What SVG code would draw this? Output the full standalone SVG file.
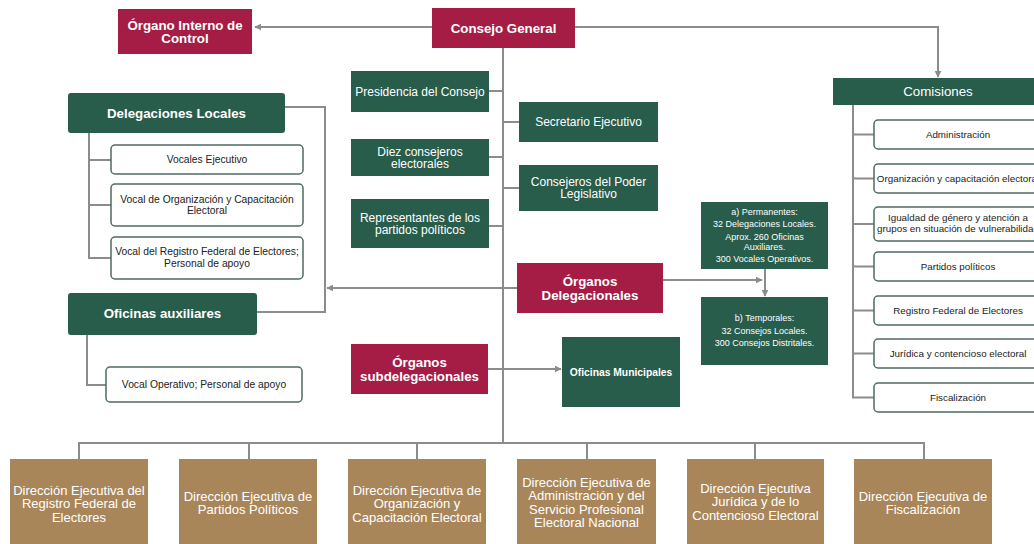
<svg xmlns="http://www.w3.org/2000/svg" width="1034" height="544" viewBox="0 0 1034 544">
<style>
text{font-family:"Liberation Sans",Arial,sans-serif;text-anchor:middle}
.red{fill:#a51d45}
.grn{fill:#285c4b}
.tan{fill:#a9865a}
.wb{fill:#ffffff;stroke:#4d6b60;stroke-width:1.5}
.tb{fill:#ffffff;font-weight:bold;font-size:13.3px}
.tw{fill:#ffffff;font-size:12px}
.tk{fill:#222222;font-size:10.3px}
.tc{fill:#222222;font-size:9.8px}
.ts{fill:#ffffff;font-size:9px}
.td{fill:#ffffff;font-size:13px}
.ln{fill:none;stroke:#8c8c8c;stroke-width:2}
</style>
<defs>
<marker id="ah" viewBox="0 0 10 10" refX="9" refY="5" markerWidth="7" markerHeight="7" markerUnits="userSpaceOnUse" orient="auto">
<path d="M0,0 L10,5 L0,10 z" fill="#8c8c8c"/>
</marker>
</defs>
<rect width="1034" height="544" fill="#ffffff"/>
<g id="connectors">
<path class="ln" d="M432,27 H255" marker-end="url(#ah)"/>
<path class="ln" d="M575,27 H938 V77" marker-end="url(#ah)"/>
<path class="ln" d="M503,48 V443"/>
<path class="ln" d="M489,91 H503 M503,122 H519 M489,157 H503 M503,188 H519 M489,226 H503"/>
<path class="ln" d="M517,288 H327" marker-end="url(#ah)"/>
<path class="ln" d="M285,107 H325 V312 H257"/>
<path class="ln" d="M89,133 V258 H111 M89,160 H111 M89,205 H111"/>
<path class="ln" d="M87,335 V385 H106"/>
<path class="ln" d="M663,280 H762" marker-end="url(#ah)"/>
<path class="ln" d="M765,269 V296" marker-end="url(#ah)"/>
<path class="ln" d="M488,369 H561" marker-end="url(#ah)"/>
<path class="ln" d="M853,105 V397.5 H874 M853,134.5 H874 M853,178.5 H874 M853,224 H874 M853,266.5 H874 M853,310.5 H874 M853,353.5 H874"/>
<path class="ln" d="M79,459 V443 H924 V459 M249,443 V459 M417,443 V459 M587,443 V459 M755,443 V459"/>
</g>
<g id="organo-interno">
<rect class="red" x="118" y="9" width="134" height="45"/>
<text class="tb" x="185" y="29.5">Órgano Interno de</text>
<text class="tb" x="185" y="43">Control</text>
</g>
<g id="consejo-general">
<rect class="red" x="432" y="8" width="143" height="40"/>
<text class="tb" x="503.5" y="32.5">Consejo General</text>
</g>
<g id="comisiones">
<rect class="grn" x="833" y="78" width="210" height="27"/>
<text x="938" y="96" style="fill:#fff;font-size:13.3px">Comisiones</text>
</g>
<g id="com-admin"><rect class="wb" x="874" y="120" width="168" height="29" rx="4"/><text class="tc" x="958" y="138">Administración</text></g>
<g id="com-org"><rect class="wb" x="874" y="164" width="168" height="29" rx="4"/><text class="tc" x="958" y="182">Organización y capacitación electoral</text></g>
<g id="com-igualdad"><rect class="wb" x="874" y="207" width="168" height="34" rx="4"/><text class="tc" x="958" y="221">Igualdad de género y atención a</text><text class="tc" x="958" y="232">grupos en situación de vulnerabilidad</text></g>
<g id="com-partidos"><rect class="wb" x="874" y="252" width="168" height="29" rx="4"/><text class="tc" x="958" y="270">Partidos políticos</text></g>
<g id="com-registro"><rect class="wb" x="874" y="296" width="168" height="29" rx="4"/><text class="tc" x="958" y="314">Registro Federal de Electores</text></g>
<g id="com-juridica"><rect class="wb" x="874" y="339" width="168" height="29" rx="4"/><text class="tc" x="958" y="357">Jurídica y contencioso electoral</text></g>
<g id="com-fisc"><rect class="wb" x="874" y="383" width="168" height="29" rx="4"/><text class="tc" x="958" y="401">Fiscalización</text></g>
<g id="presidencia"><rect class="grn" x="351" y="71" width="138" height="41"/><text class="tw" x="420" y="95.5">Presidencia del Consejo</text></g>
<g id="secretario"><rect class="grn" x="519" y="102" width="139" height="40"/><text class="tw" x="588.5" y="126">Secretario Ejecutivo</text></g>
<g id="diez"><rect class="grn" x="351" y="139" width="138" height="37"/><text class="tw" x="420" y="155.5">Diez consejeros</text><text class="tw" x="420" y="168">electorales</text></g>
<g id="poder-leg"><rect class="grn" x="519" y="165" width="139" height="46"/><text class="tw" x="588.5" y="185.5">Consejeros del Poder</text><text class="tw" x="588.5" y="198">Legislativo</text></g>
<g id="representantes"><rect class="grn" x="351" y="199" width="138" height="49"/><text class="tw" x="420" y="221.5">Representantes de los</text><text class="tw" x="420" y="234">partidos políticos</text></g>
<g id="delegaciones-locales"><rect class="grn" x="68" y="93" width="217" height="40" rx="3"/><text class="tb" x="176.5" y="117.5">Delegaciones Locales</text></g>
<g id="vocales-ej"><rect class="wb" x="111" y="145" width="192" height="29" rx="4"/><text class="tk" x="207" y="163">Vocales Ejecutivo</text></g>
<g id="vocal-org"><rect class="wb" x="111" y="184" width="192" height="42" rx="4"/><text class="tk" x="207" y="203">Vocal de Organización y Capacitación</text><text class="tk" x="207" y="214">Electoral</text></g>
<g id="vocal-reg"><rect class="wb" x="111" y="237" width="192" height="42" rx="4"/><text class="tk" x="207" y="255">Vocal del Registro Federal de Electores;</text><text class="tk" x="207" y="266.5">Personal de apoyo</text></g>
<g id="oficinas-aux"><rect class="grn" x="68" y="293" width="189" height="42" rx="3"/><text class="tb" x="162.5" y="317.5">Oficinas auxiliares</text></g>
<g id="vocal-op"><rect class="wb" x="106" y="367" width="196" height="35" rx="4"/><text class="tk" x="204" y="388">Vocal Operativo; Personal de apoyo</text></g>
<g id="organos-deleg"><rect class="red" x="517" y="263" width="146" height="50"/><text class="tb" x="590" y="286">Órganos</text><text class="tb" x="590" y="300">Delegacionales</text></g>
<g id="permanentes"><rect class="grn" x="701" y="202" width="127" height="67"/>
<text class="ts" x="764.5" y="215">a) Permanentes:</text>
<text class="ts" x="764.5" y="227">32 Delegaciones Locales.</text>
<text class="ts" x="764.5" y="240">Aprox. 260 Oficinas</text>
<text class="ts" x="764.5" y="250">Auxiliares.</text>
<text class="ts" x="764.5" y="262">300 Vocales Operativos.</text>
</g>
<g id="temporales"><rect class="grn" x="701" y="297" width="127" height="68"/>
<text class="ts" x="764.5" y="321">b) Temporales:</text>
<text class="ts" x="764.5" y="334">32 Consejos Locales.</text>
<text class="ts" x="764.5" y="346">300 Consejos Distritales.</text>
</g>
<g id="organos-subdeleg"><rect class="red" x="351" y="344" width="137" height="50"/><text class="tb" x="419.5" y="366.5">Órganos</text><text class="tb" x="419.5" y="380.5">subdelegacionales</text></g>
<g id="oficinas-mun"><rect class="grn" x="562" y="337" width="118" height="70"/><text x="621" y="375.5" style="fill:#fff;font-weight:bold;font-size:10.3px">Oficinas Municipales</text></g>
<g id="de-rfe"><rect class="tan" x="10" y="459" width="138" height="95"/><text class="td" x="79" y="494.5">Dirección Ejecutiva del</text><text class="td" x="79" y="508">Registro Federal de</text><text class="td" x="79" y="521.5">Electores</text></g>
<g id="de-pp"><rect class="tan" x="179" y="459" width="138" height="95"/><text class="td" x="248" y="500.5">Dirección Ejecutiva de</text><text class="td" x="248" y="514">Partidos Políticos</text></g>
<g id="de-oce"><rect class="tan" x="348" y="459" width="138" height="95"/><text class="td" x="417" y="494.5">Dirección Ejecutiva de</text><text class="td" x="417" y="508">Organización y</text><text class="td" x="417" y="521.5">Capacitación Electoral</text></g>
<g id="de-admin"><rect class="tan" x="517" y="459" width="139" height="95"/><text class="td" x="586.5" y="486.5">Dirección Ejecutiva de</text><text class="td" x="586.5" y="500">Administración y del</text><text class="td" x="586.5" y="513.5">Servicio Profesional</text><text class="td" x="586.5" y="527">Electoral Nacional</text></g>
<g id="de-jur"><rect class="tan" x="687" y="459" width="137" height="95"/><text class="td" x="755.5" y="492.5">Dirección Ejecutiva</text><text class="td" x="755.5" y="506">Jurídica y de lo</text><text class="td" x="755.5" y="519.5">Contencioso Electoral</text></g>
<g id="de-fisc"><rect class="tan" x="854" y="459" width="138" height="95"/><text class="td" x="923" y="500.5">Dirección Ejecutiva de</text><text class="td" x="923" y="514">Fiscalización</text></g>
</svg>
